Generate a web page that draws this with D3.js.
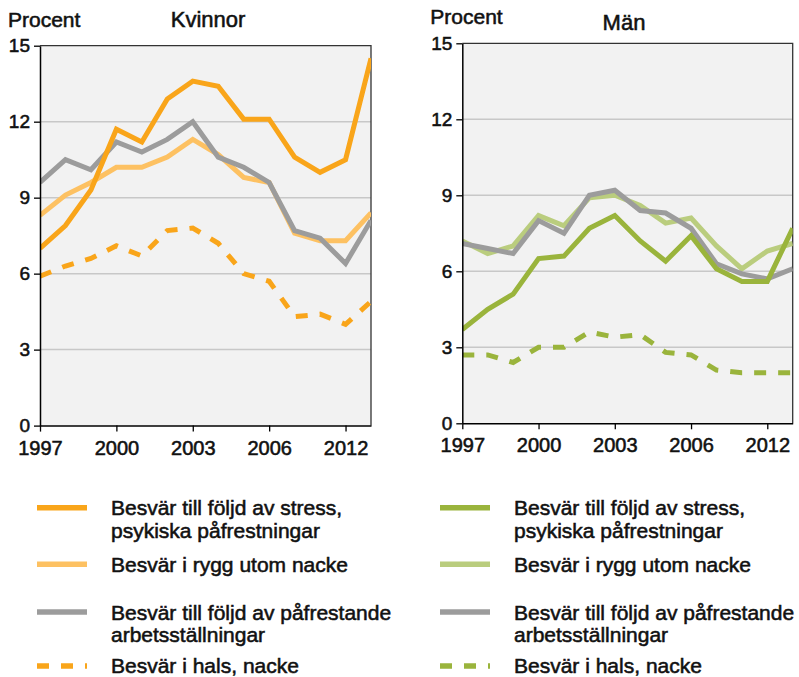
<!DOCTYPE html>
<html>
<head>
<meta charset="utf-8">
<script src="https://cdn.jsdelivr.net/npm/d3@7"></script>
<style>
  html, body { margin: 0; padding: 0; background: #fff; }
  svg { display: block; font-family: "Liberation Sans", Arial, sans-serif; }
  svg text { stroke: #111; stroke-width: 0.55px; }
</style>
</head>
<body>
<svg id="chart" width="799" height="677"></svg>
<script>
// kategorier (undersökningsår) och tickar
var years = ['1997','1998','1999','2000','2001','2002','2003','2004','2005','2006','2008','2010','2012','2014'];
var yearTicks = ['1997','2000','2003','2006','2012'];
var pctTicks = [0, 3, 6, 9, 12, 15];

// Kvinnor
var womenStress = [7.0, 7.9, 9.3, 11.7, 11.2, 12.9, 13.6, 13.4, 12.1, 12.1, 10.6, 10.0, 10.5, 14.5];
var womenBack   = [8.3, 9.1, 9.6, 10.2, 10.2, 10.6, 11.3, 10.7, 9.8, 9.6, 7.6, 7.3, 7.3, 8.4];
var womenPosture= [9.6, 10.5, 10.1, 11.2, 10.8, 11.3, 12.0, 10.6, 10.2, 9.6, 7.7, 7.4, 6.4, 8.1];
var womenNeck   = [5.9, 6.3, 6.6, 7.1, 6.7, 7.7, 7.8, 7.2, 6.0, 5.7, 4.3, 4.4, 4.0, 4.9];

// Män
var menStress  = [3.7, 4.5, 5.1, 6.5, 6.6, 7.7, 8.2, 7.2, 6.4, 7.4, 6.1, 5.6, 5.6, 7.7];
var menBack    = [7.2, 6.7, 7.0, 8.2, 7.8, 8.9, 9.0, 8.6, 7.9, 8.1, 7.0, 6.1, 6.8, 7.1];
var menPosture = [7.1, 6.9, 6.7, 8.0, 7.5, 9.0, 9.2, 8.4, 8.3, 7.7, 6.3, 5.9, 5.7, 6.1];
var menNeck    = [2.7, 2.7, 2.4, 3.0, 3.0, 3.6, 3.4, 3.5, 2.8, 2.7, 2.1, 2.0, 2.0, 2.0];

// legendtexter
var seriesLabels = [
  ['Besvär till följd av stress,', 'psykiska påfrestningar'],
  ['Besvär i rygg utom nacke'],
  ['Besvär till följd av påfrestande', 'arbetsställningar'],
  ['Besvär i hals, nacke']
];

var svg = d3.select('#chart');

function panel(cfg){
  var g = svg.append('g');
  var x = d3.scalePoint().domain(years).range([cfg.x0, cfg.x1]);
  var y = d3.scaleLinear().domain([0, 15]).range([cfg.yb, cfg.yt]);

  // bakgrund
  g.append('rect')
    .attr('x', cfg.x0).attr('y', cfg.yt)
    .attr('width', cfg.x1 - cfg.x0).attr('height', cfg.yb - cfg.yt)
    .attr('fill', '#f2f2f2');

  // stödlinjer
  g.selectAll('.grid').data([3, 6, 9, 12]).enter().append('line')
    .attr('x1', cfg.x0).attr('x2', cfg.x1)
    .attr('y1', function(d){ return y(d); }).attr('y2', function(d){ return y(d); })
    .attr('stroke', '#c8c8c8').attr('stroke-width', 1.5);

  // ram uppe och höger
  g.append('path')
    .attr('d', 'M' + cfg.x0 + ',' + cfg.yt + 'H' + cfg.x1 + 'V' + cfg.yb)
    .attr('fill', 'none').attr('stroke', '#333').attr('stroke-width', 1.3);

  var clipId = 'clip' + cfg.id;
  svg.append('clipPath').attr('id', clipId).append('rect')
    .attr('x', cfg.x0).attr('y', cfg.yt)
    .attr('width', cfg.x1 - cfg.x0).attr('height', cfg.yb - cfg.yt);

  var line = d3.line()
    .x(function(d, i){ return x(years[i]); })
    .y(function(d){ return y(d); });

  var lines = g.append('g').attr('clip-path', 'url(#' + clipId + ')');
  // ritordning: hals, rygg, arbetsställningar, stress
  [3, 1, 2, 0].forEach(function(k){
    var s = cfg.series[k];
    lines.append('path')
      .attr('d', line(s.values))
      .attr('fill', 'none')
      .attr('stroke', s.color)
      .attr('stroke-width', 5)
      .attr('stroke-linejoin', 'miter')
      .attr('stroke-dasharray', s.dash || null);
  });

  // axlar
  var ya = g.append('g').attr('transform', 'translate(' + cfg.x0 + ',0)')
    .call(d3.axisLeft(y).tickValues(pctTicks).tickSize(6).tickSizeOuter(0).tickPadding(4));
  var xa = g.append('g').attr('transform', 'translate(0,' + cfg.yb + ')')
    .call(d3.axisBottom(x).tickValues(yearTicks).tickSize(6).tickSizeOuter(0).tickPadding(9));
  [ya, xa].forEach(function(a){
    a.select('.domain').attr('stroke', '#000').attr('stroke-width', 1.5);
    a.selectAll('.tick line').attr('stroke', '#000').attr('stroke-width', 1.3);
    a.selectAll('.tick text').attr('fill', '#111').style('font-family', '"Liberation Sans", Arial, sans-serif');
  });
  ya.selectAll('.tick text').style('font-size', '19px');
  xa.selectAll('.tick text').style('font-size', '20px');

  // rubriker
  g.append('text').attr('x', cfg.x0 - 32).attr('y', cfg.unitY)
    .attr('font-size', 21).attr('fill', '#111').text('Procent');
  g.append('text').attr('x', cfg.titleX).attr('y', cfg.titleY)
    .attr('text-anchor', 'middle').attr('font-size', 22).attr('fill', '#111').text(cfg.title);

  // teckenförklaring
  var rows = [507.7, 564.3, 612, 666];
  cfg.series.forEach(function(s, k){
    var ly = rows[k];
    g.append('line')
      .attr('x1', cfg.legX).attr('x2', cfg.legX + 50)
      .attr('y1', ly).attr('y2', ly)
      .attr('stroke', s.color).attr('stroke-width', 5.5)
      .attr('stroke-dasharray', s.dash || null);
    var t = g.append('text').attr('x', cfg.legX + 74).attr('y', ly + (k === 3 ? 6.5 : 7.5))
      .attr('font-size', 21).attr('fill', '#111');
    seriesLabels[k].forEach(function(txt, j){
      t.append('tspan').attr('x', cfg.legX + 74).attr('dy', j ? 22.5 : 0).text(txt);
    });
  });
}

panel({
  id: 'k', x0: 40, x1: 371, yt: 45.7, yb: 425.6,
  unitY: 26.7, title: 'Kvinnor', titleX: 208, titleY: 27.3, legX: 37,
  series: [
    { values: womenStress, color: '#f9a51a' },
    { values: womenBack, color: '#fdc162' },
    { values: womenPosture, color: '#9c9c9c' },
    { values: womenNeck, color: '#f9a51a', dash: '12,12' }
  ]
});

panel({
  id: 'm', x0: 462.3, x1: 792.7, yt: 43.3, yb: 423.3,
  unitY: 24, title: 'Män', titleX: 624, titleY: 29.5, legX: 440,
  series: [
    { values: menStress, color: '#9ab43c' },
    { values: menBack, color: '#bacd7e' },
    { values: menPosture, color: '#9c9c9c' },
    { values: menNeck, color: '#9ab43c', dash: '12,12' }
  ]
});
</script>
</body>
</html>
